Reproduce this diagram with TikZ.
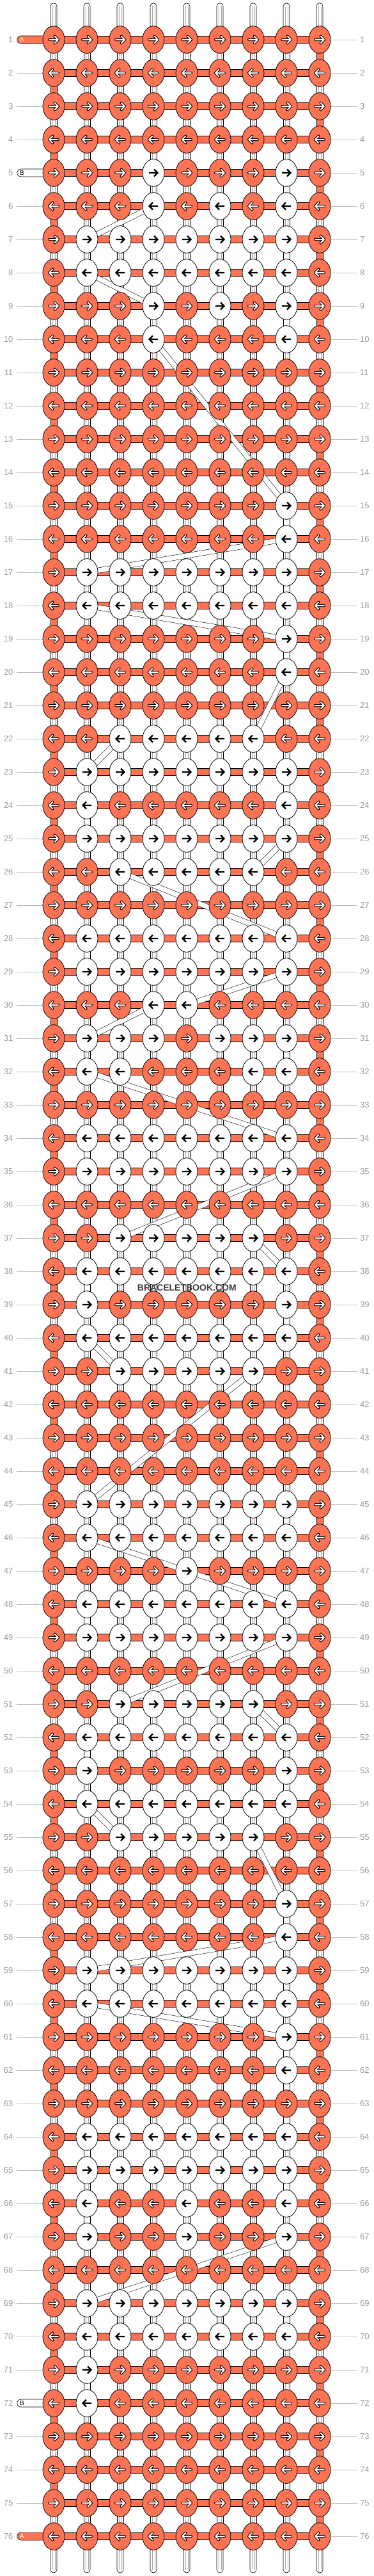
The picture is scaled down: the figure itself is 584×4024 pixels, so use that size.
\documentclass[tikz,border=0pt]{standalone}
\usepackage{fontspec}
\setmainfont{Liberation Sans}
\usetikzlibrary{shapes.geometric}
\pgfdeclarelayer{bg}
\pgfdeclarelayer{mid}
\pgfsetlayers{bg,mid,main}
\definecolor{kor}{HTML}{FF7355}
\definecolor{lblgray}{HTML}{9A9A9A}
\definecolor{guidegray}{HTML}{BDBDBD}
\definecolor{strandgray}{HTML}{A8A8A8}
\tikzset{
 knot/.style={ellipse, draw=black, line width=0.8pt, minimum width=34pt, minimum height=42.6pt, inner sep=0pt, outer sep=0pt},
 knotO/.style={knot, fill=kor},
 knotW/.style={knot, fill=white},
 bar/.style={fill=kor, draw=black, line width=0.6pt},
 vconn/.style={fill=white, draw=black, line width=0.6pt},
 vorange/.style={fill=kor, draw=black, line width=0.6pt},
 strandline/.style={draw=strandgray, line width=0.5pt},
 band/.style={draw=black, line width=0.55pt, double=white, double distance=7.5pt},
 guide/.style={draw=guidegray, line width=0.8pt},
 lbl/.style={font=\fontsize{13}{13}\selectfont, text=lblgray, inner sep=0pt},
 warrow/.pic={\begin{scope}[xscale=#1]
   \draw[black, line width=4pt, line cap=round, line join=round] (-7,0)--(6.5,0) (1.5,-5.5)--(7,0)--(1.5,5.5);
   \draw[white, line width=2pt, line cap=round, line join=round] (-7,0)--(6.5,0) (1.5,-5.5)--(7,0)--(1.5,5.5);
 \end{scope}},
 barrow/.pic={\begin{scope}[xscale=#1]
   \draw[black, line width=2.4pt, line join=miter] (-7,0)--(6,0) (1,-5.5)--(6.5,0)--(1,5.5);
 \end{scope}},
}
\newcommand{\kn}[3]{%
  \pgfmathsetmacro{\kx}{84+52*(#2-1)}%
  \pgfmathsetmacro{\ky}{62+52*(#1-1)}%
  \ifnum#3=1
    \node[knotO] (k-#1-#2) at (\kx,\ky) {};
    \ifodd#1 \pic at (k-#1-#2.center) {warrow=1};\else \pic at (k-#1-#2.center) {warrow=-1};\fi
  \else
    \node[knotW] (k-#1-#2) at (\kx,\ky) {};
    \ifodd#1 \pic at (k-#1-#2.center) {barrow=1};\else \pic at (k-#1-#2.center) {barrow=-1};\fi
  \fi}
\newcommand{\krow}[2]{\foreach \vi [count=\ci] in {#2}{\kn{#1}{\ci}{\vi}}}
\begin{document}
\begin{tikzpicture}[x=1pt,y=-1pt]
\useasboundingbox (0,0) rectangle (584,4024);
\krow{1}{1,1,1,1,1,1,1,1,1}
\krow{2}{1,1,1,1,1,1,1,1,1}
\krow{3}{1,1,1,1,1,1,1,1,1}
\krow{4}{1,1,1,1,1,1,1,1,1}
\krow{5}{1,1,1,0,1,1,1,0,1}
\krow{6}{1,1,1,0,1,0,1,0,1}
\krow{7}{1,0,0,0,0,0,0,0,1}
\krow{8}{1,0,0,0,0,0,0,0,1}
\krow{9}{1,1,1,0,1,0,1,0,1}
\krow{10}{1,1,1,0,1,1,1,0,1}
\krow{11}{1,1,1,1,1,1,1,1,1}
\krow{12}{1,1,1,1,1,1,1,1,1}
\krow{13}{1,1,1,1,1,1,1,1,1}
\krow{14}{1,1,1,1,1,1,1,1,1}
\krow{15}{1,1,1,1,1,1,1,0,1}
\krow{16}{1,1,1,1,1,1,1,0,1}
\krow{17}{1,0,0,0,0,0,0,0,1}
\krow{18}{1,0,0,0,0,0,0,0,1}
\krow{19}{1,1,1,1,1,1,1,0,1}
\krow{20}{1,1,1,1,1,1,1,0,1}
\krow{21}{1,1,1,1,1,1,1,1,1}
\krow{22}{1,1,0,0,0,0,0,1,1}
\krow{23}{1,0,0,0,0,0,0,0,1}
\krow{24}{1,0,1,1,1,1,1,0,1}
\krow{25}{1,0,0,0,0,0,0,0,1}
\krow{26}{1,1,0,0,0,0,0,1,1}
\krow{27}{1,1,1,1,1,1,1,1,1}
\krow{28}{1,0,0,0,0,0,0,0,1}
\krow{29}{1,0,0,0,0,0,0,0,1}
\krow{30}{1,1,1,0,0,1,1,1,1}
\krow{31}{1,0,0,0,1,0,0,0,1}
\krow{32}{1,0,0,1,1,1,0,0,1}
\krow{33}{1,1,1,1,1,1,1,1,1}
\krow{34}{1,0,0,0,0,0,0,0,1}
\krow{35}{1,0,0,0,0,0,0,0,1}
\krow{36}{1,1,1,1,1,1,1,1,1}
\krow{37}{1,1,0,0,0,0,0,1,1}
\krow{38}{1,0,0,0,0,0,0,0,1}
\krow{39}{1,0,1,1,1,1,1,0,1}
\krow{40}{1,0,0,0,0,0,0,0,1}
\krow{41}{1,1,0,0,0,0,0,1,1}
\krow{42}{1,1,1,1,1,1,1,1,1}
\krow{43}{1,1,1,1,1,1,1,1,1}
\krow{44}{1,1,1,1,1,1,1,1,1}
\krow{45}{1,0,0,0,0,0,0,0,1}
\krow{46}{1,0,0,0,0,0,0,0,1}
\krow{47}{1,1,1,1,0,1,1,1,1}
\krow{48}{1,0,0,0,0,0,0,0,1}
\krow{49}{1,0,0,0,0,0,0,0,1}
\krow{50}{1,1,1,1,1,1,1,1,1}
\krow{51}{1,1,0,0,0,0,0,1,1}
\krow{52}{1,0,0,0,0,0,0,0,1}
\krow{53}{1,0,1,1,1,1,1,0,1}
\krow{54}{1,0,0,0,0,0,0,0,1}
\krow{55}{1,1,0,0,0,0,0,1,1}
\krow{56}{1,1,1,1,1,1,1,1,1}
\krow{57}{1,1,1,1,1,1,1,0,1}
\krow{58}{1,1,1,1,1,1,1,0,1}
\krow{59}{1,0,0,0,0,0,0,0,1}
\krow{60}{1,0,0,0,0,0,0,0,1}
\krow{61}{1,1,1,1,1,1,1,0,1}
\krow{62}{1,1,1,1,1,1,1,0,1}
\krow{63}{1,1,1,1,1,1,1,1,1}
\krow{64}{1,0,0,0,0,0,0,0,1}
\krow{65}{1,0,0,0,0,0,0,0,1}
\krow{66}{1,0,1,1,0,1,1,0,1}
\krow{67}{1,0,1,1,0,1,1,0,1}
\krow{68}{1,1,1,1,1,1,1,1,1}
\krow{69}{1,0,0,0,0,0,0,0,1}
\krow{70}{1,0,0,0,0,0,0,0,1}
\krow{71}{1,0,1,1,1,1,1,1,1}
\krow{72}{1,0,1,1,1,1,1,1,1}
\krow{73}{1,1,1,1,1,1,1,1,1}
\krow{74}{1,1,1,1,1,1,1,1,1}
\krow{75}{1,1,1,1,1,1,1,1,1}
\krow{76}{1,1,1,1,1,1,1,1,1}
\begin{pgfonlayer}{bg}
 % horizontal bars
 \foreach \ri in {1,...,76}{\foreach \ci [evaluate=\ci as \di using int(\ci+1)] in {1,...,8}{
   \draw[bar] ([yshift=5.5pt]k-\ri-\ci.center) rectangle ([yshift=-5.5pt]k-\ri-\di.center);}}
 % vertical connectors
 \foreach \ri [evaluate=\ri as \rr using int(\ri+1)] in {1,...,75}{\foreach \ci in {1,...,9}{
   \draw[vconn] ([xshift=-5pt]k-\ri-\ci.center) rectangle ([xshift=5pt]k-\rr-\ci.center);
   \draw[strandline] ([xshift=-1.8pt]k-\ri-\ci.center) -- ([xshift=-1.8pt]k-\rr-\ci.center)
                     ([xshift=1.8pt]k-\ri-\ci.center) -- ([xshift=1.8pt]k-\rr-\ci.center);}}
 \foreach \ri [evaluate=\ri as \rr using int(\ri+1)] in {1,3,...,75}{
   \draw[vorange] ([xshift=-5pt]k-\ri-9.center) rectangle ([xshift=5pt]k-\rr-9.center);}
 \foreach \ri [evaluate=\ri as \rr using int(\ri+1)] in {2,4,...,74}{
   \draw[vorange] ([xshift=-5pt]k-\ri-1.center) rectangle ([xshift=5pt]k-\rr-1.center);}
 \foreach \ri/\ci [evaluate=\ri as \rr using int(\ri+1)] in {5/8,7/8,9/8,15/8,17/8,19/8,23/8,24/2,28/2,31/8,34/2,38/2,39/8,45/8,48/2,52/2,53/8,57/8,59/8,61/8,62/8,63/8,64/2,65/8,66/2,69/8,70/2,71/2}{
   \draw[vconn] ([xshift=-5pt]k-\ri-\ci.center) rectangle ([xshift=5pt]k-\rr-\ci.center);}
 % top and bottom strands
 \foreach \ci in {1,...,9}{
   \draw[vconn, rounded corners=5pt] ([xshift=-5pt]k-1-\ci.center) -- ([xshift=-5pt,yshift=57.3pt]k-1-\ci.center) -- ([xshift=5pt,yshift=57.3pt]k-1-\ci.center) -- ([xshift=5pt]k-1-\ci.center) -- cycle;
   \draw[strandline] ([xshift=-1.8pt,yshift=52pt]k-1-\ci.center) -- ([xshift=-1.8pt]k-1-\ci.center)
                     ([xshift=1.8pt,yshift=52pt]k-1-\ci.center) -- ([xshift=1.8pt]k-1-\ci.center);
   \draw[vconn, rounded corners=5pt] ([xshift=-5pt]k-76-\ci.center) -- ([xshift=-5pt,yshift=-57pt]k-76-\ci.center) -- ([xshift=5pt,yshift=-57pt]k-76-\ci.center) -- ([xshift=5pt]k-76-\ci.center) -- cycle;
   \draw[strandline] ([xshift=-1.8pt,yshift=-52pt]k-76-\ci.center) -- ([xshift=-1.8pt]k-76-\ci.center)
                     ([xshift=1.8pt,yshift=-52pt]k-76-\ci.center) -- ([xshift=1.8pt]k-76-\ci.center);}
 % labels and guide lines
 \foreach \ri in {1,...,76}{
   \pgfmathsetmacro{\yy}{62+52*(\ri-1)}
   \node[lbl, anchor=east] (L\ri) at (20.5,\yy) {\ri};
   \node[lbl, anchor=west] (R\ri) at (563,\yy) {\ri};
   \draw[guide] (k-\ri-9.east) -- ([xshift=-4.4pt]R\ri.west);
   \def\hastail{0}
   \ifnum\ri=1 \def\hastail{1}\fi
   \ifnum\ri=5 \def\hastail{1}\fi
   \ifnum\ri=72 \def\hastail{1}\fi
   \ifnum\ri=76 \def\hastail{1}\fi
   \ifnum\hastail=0 \draw[guide] ([xshift=5.5pt]L\ri.east) -- (k-\ri-1.west);\fi
 }
 % thread tails
 \foreach \ri/\fc/\tc/\tl in {1/kor/white/A,76/kor/white/A,5/white/black/B,72/white/black/B}{
   \pgfmathsetmacro{\yy}{62+52*(\ri-1)}
   \coordinate (t\ri) at (26.8,\yy);
   \draw[fill=\fc, draw=black, line width=0.6pt, rounded corners=6pt] ([yshift=6pt]t\ri) rectangle ([yshift=-6pt]k-\ri-1.center);
   \node[font=\fontsize{10}{10}\selectfont, text=\tc, inner sep=0pt] (tx\ri) at ([xshift=7.7pt]t\ri) {\tl};
 }
\end{pgfonlayer}
\begin{pgfonlayer}{mid}
 \foreach \ra/\ca/\rb/\cb in {6/4/7/2,8/2/9/4,10/4/15/8,16/8/17/2,18/2/19/8,20/8/22/7,22/3/23/2,25/8/26/7,26/3/28/8,29/8/30/5,30/4/31/2,32/2/34/8,35/8/37/3,37/7/38/8,40/2/41/3,41/7/45/2,46/2/48/8,49/8/51/3,51/7/52/8,54/2/55/3,55/7/57/8,58/8/59/2,60/2/61/8,67/8/69/2}{
   \draw[band] (k-\ra-\ca.center) -- (k-\rb-\cb.center);}
\end{pgfonlayer}
\node[font=\bfseries\fontsize{14}{14}\selectfont, text=black!76, inner sep=0pt] (wm) at (292.3,2011.7) {BRACELETBOOK.COM};
\end{tikzpicture}
\end{document}
